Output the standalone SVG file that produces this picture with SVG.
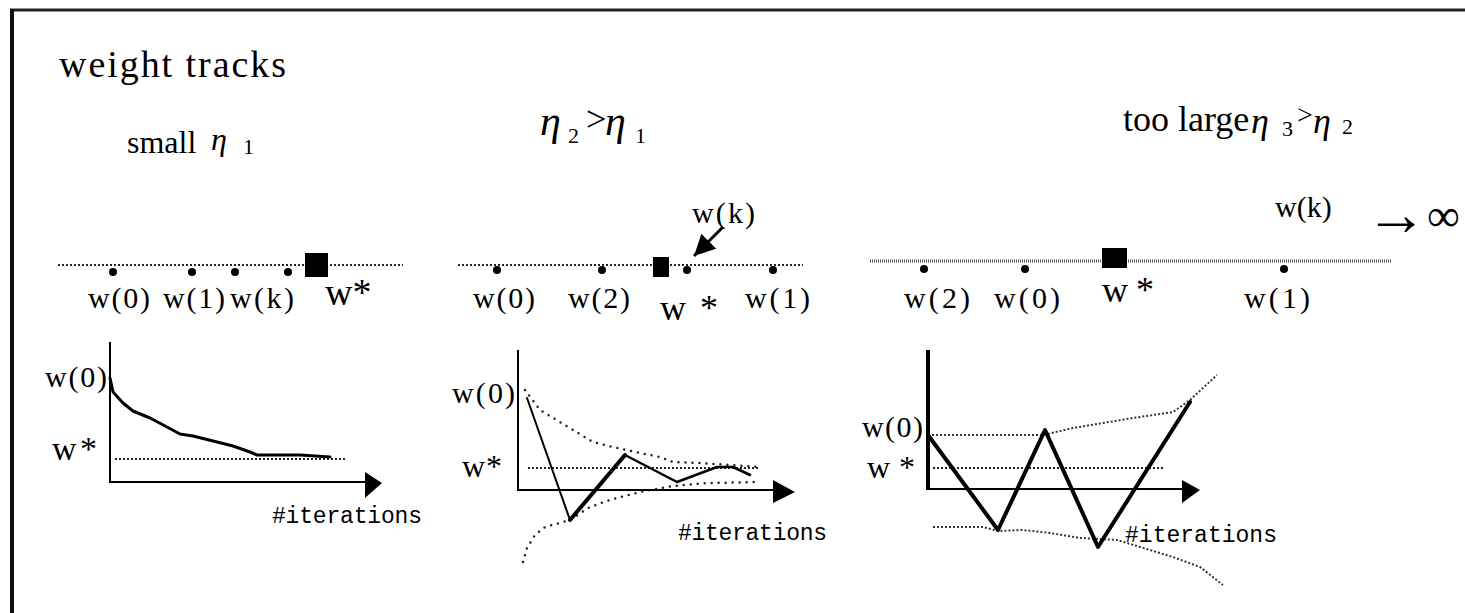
<svg xmlns="http://www.w3.org/2000/svg" width="1465" height="613" viewBox="0 0 1465 613">
<defs>
<style>
.t{font-family:"Liberation Serif","Times New Roman",serif;fill:#000}
.e{font-style:italic}
.m{font-family:"Liberation Mono","Courier New",monospace;fill:#000}
.ax{stroke:#000;stroke-width:2;fill:none}
.dl{stroke:#222;stroke-width:2;stroke-dasharray:2 2;fill:none}
.wl{stroke:#555;stroke-width:3;stroke-dasharray:1 1;fill:none}
.env{stroke:#222;stroke-width:2.5;stroke-dasharray:0 7;stroke-linecap:round;fill:none}
.env3{stroke:#333;stroke-width:2;stroke-dasharray:2 2;fill:none}
.trk{stroke:#000;fill:none;stroke-linejoin:round;stroke-linecap:round}
.pt{fill:#000}
</style>
<marker id="ah" viewBox="0 0 10 10" refX="10" refY="5" markerWidth="7" markerHeight="7" orient="auto" markerUnits="strokeWidth">
<path d="M0,0 L10,5 L0,10 Z" fill="#000"/>
</marker>
</defs>
<rect width="1465" height="613" fill="#fff"/>
<g id="frame">
<path d="M10,10 H1465" stroke="#222" stroke-width="3" fill="none"/>
<path d="M12,9 V613" stroke="#111" stroke-width="4" fill="none"/>
</g>
<g id="title">
<text class="t" x="59" y="77" font-size="38" textLength="227">weight tracks</text>
</g>

<g id="panel1">
<text class="t" y="153"><tspan x="127" font-size="32">small</tspan><tspan class="e" x="211" y="150" font-size="32">η</tspan><tspan x="243" y="154" font-size="22">1</tspan></text>
<g id="p1-line">
<line class="dl" x1="58" y1="265" x2="403" y2="265"/>
<circle class="pt" cx="113" cy="272" r="4"/>
<circle class="pt" cx="192" cy="272" r="4"/>
<circle class="pt" cx="235" cy="272" r="4"/>
<circle class="pt" cx="288" cy="272" r="4"/>
<rect x="305" y="253" width="23" height="24" fill="#000"/>
<text class="t" x="88" y="308" font-size="30" textLength="62">w(0)</text>
<text class="t" x="163" y="308" font-size="30" textLength="62">w(1)</text>
<text class="t" x="230" y="308" font-size="30" textLength="64">w(k)</text>
<text class="t" x="325" y="305" font-size="38">w*</text>
</g>
<g id="p1-chart">
<text class="t" x="45" y="387" font-size="30" textLength="62">w(0)</text>
<text class="t" x="52" y="460" font-size="34" textLength="45">w*</text>
<line class="dl" x1="115" y1="459" x2="347" y2="459"/>
<polyline class="trk" stroke-width="3" points="110,378 113,392 123,403 133,411 150,418 167,427 180,434 193,436 213,441 233,446 250,452 257,455 300,455 330,457"/>
</g>
</g>

<g id="panel2">
<text class="t" y="135"><tspan class="e" x="540" font-size="42">η</tspan><tspan x="568" y="143" font-size="22">2</tspan><tspan x="586" y="131" font-size="36">&gt;</tspan><tspan class="e" x="605" y="135" font-size="42">η</tspan><tspan x="635" y="143" font-size="22">1</tspan></text>
<g id="p2-line">
<line class="dl" x1="458" y1="265" x2="803" y2="265"/>
<circle class="pt" cx="497" cy="270" r="4"/>
<circle class="pt" cx="602" cy="270" r="4"/>
<circle class="pt" cx="687" cy="270" r="4"/>
<circle class="pt" cx="773" cy="270" r="4"/>
<rect x="653" y="257" width="16" height="20" fill="#000"/>
<text class="t" x="473" y="308" font-size="30" textLength="62">w(0)</text>
<text class="t" x="568" y="308" font-size="30" textLength="62">w(2)</text>
<text class="t" x="660" y="320" font-size="36" textLength="58">w*</text>
<text class="t" x="745" y="308" font-size="30" textLength="65">w(1)</text>
<text class="t" x="692" y="223" font-size="30" textLength="63">w(k)</text>
</g>
<g id="p2-chart">
<text class="t" x="452" y="403" font-size="30" textLength="63">w(0)</text>
<text class="t" x="462" y="477" font-size="32" textLength="40">w*</text>
<line class="dl" x1="528" y1="468" x2="760" y2="468"/>
<polyline class="env" points="525,390 540,410 593,442 613,447 640,453 660,457 673,462 700,463 760,467"/>
<polyline class="env" points="523,562 527,548 535,535 545,527 570,520 590,507 610,500 640,492 673,486 707,483 760,482"/>
<line class="trk" stroke-width="2" x1="527" y1="398" x2="570" y2="520"/>
<line class="trk" stroke-width="4" x1="570" y1="520" x2="625" y2="455"/>
<polyline class="trk" stroke-width="2.5" points="625,455 677,482 717,467 733,467 750,475"/>
</g>
</g>

<g id="panel3">
<text class="t" y="131"><tspan x="1123" font-size="36">too large</tspan><tspan class="e" x="1251" y="133" font-size="36">η</tspan><tspan x="1282" y="136" font-size="22">3</tspan><tspan x="1297" y="124" font-size="28">&gt;</tspan><tspan class="e" x="1313" y="133" font-size="36">η</tspan><tspan x="1342" y="134" font-size="22">2</tspan></text>
<g id="p3-line">
<line class="wl" x1="870" y1="261" x2="1392" y2="261"/>
<circle class="pt" cx="924" cy="269" r="4"/>
<circle class="pt" cx="1025" cy="269" r="4"/>
<circle class="pt" cx="1284" cy="269" r="4"/>
<rect x="1102" y="248" width="25" height="20" fill="#000"/>
<text class="t" x="904" y="308" font-size="30" textLength="66">w(2)</text>
<text class="t" x="994" y="308" font-size="30" textLength="66">w(0)</text>
<text class="t" x="1102" y="302" font-size="36" textLength="52">w*</text>
<text class="t" x="1244" y="308" font-size="30" textLength="66">w(1)</text>
<text class="t" y="227"><tspan x="1275" y="217" font-size="30">w(k)</tspan><tspan x="1365" y="235" font-size="62">→</tspan><tspan x="1427" y="231" font-size="46">∞</tspan></text>
</g>
<g id="p3-chart">
<text class="t" x="862" y="437" font-size="30" textLength="61">w(0)</text>
<text class="t" x="867" y="478" font-size="32" textLength="48">w*</text>
<line class="dl" x1="933" y1="468" x2="1165" y2="468"/>
<polyline class="env3" points="928,435 1043,435 1073,428 1133,418 1173,412 1190,400 1217,375"/>
<polyline class="env3" points="933,527 983,527 998,531 1023,530 1050,533 1080,538 1117,540 1140,547 1173,557 1200,567 1223,585"/>
<polyline class="trk" stroke-width="4" points="928,435 998,530 1045,430 1098,547 1190,402"/>
</g>
</g>

<g id="axes">
<polyline class="ax" points="110,342 110,482 366,482"/>
<path d="M365,472 L382,483 L365,498 Z" fill="#000"/>
<text class="m" x="272" y="523" font-size="23" textLength="150">#iterations</text>
<polyline class="ax" points="518,350 518,490 774,490"/>
<path d="M773,480 L795,492 L773,503 Z" fill="#000"/>
<text class="m" x="678" y="540" font-size="23" textLength="149">#iterations</text>
<line x1="928" y1="350" x2="928" y2="490" stroke="#000" stroke-width="4"/>
<line class="ax" x1="928" y1="489" x2="1183" y2="489"/>
<path d="M1182,480 L1200,490 L1182,503 Z" fill="#000"/>
<text class="m" x="1125" y="542" font-size="23" textLength="152">#iterations</text>
</g>

<g id="connectors">
<line x1="723" y1="227" x2="694" y2="256" stroke="#000" stroke-width="3" marker-end="url(#ah)"/>
</g>
</svg>
